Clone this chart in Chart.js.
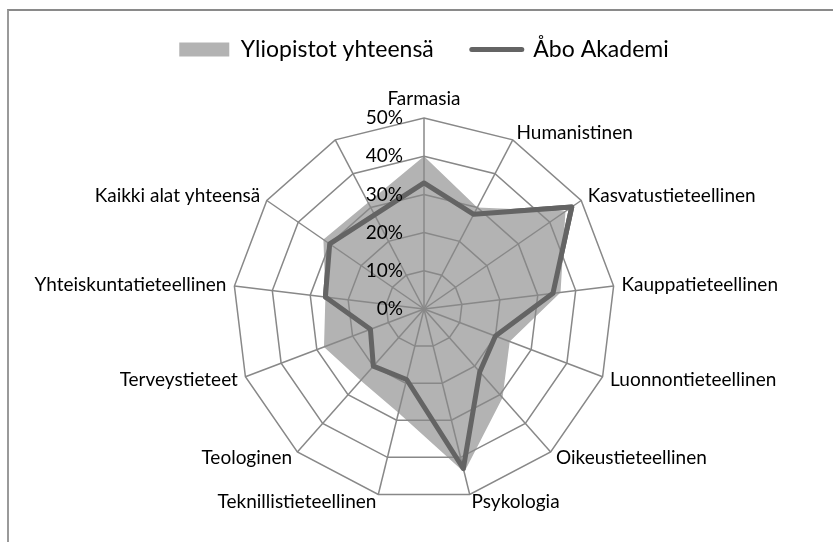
<!DOCTYPE html>
<html>
<head>
<meta charset="utf-8">
<script src="https://cdn.jsdelivr.net/npm/chart.js@4/dist/chart.umd.min.js"></script>
<style>
  html, body { margin: 0; padding: 0; background: #fff; }
  #wrap { position: relative; width: 833px; height: 542px; overflow: hidden; }
  #frame { position: absolute; left: 7px; top: 9px; width: 900px; height: 600px;
           border-top: 2px solid #8a8a8a; border-left: 2px solid #9a9a9a; }
  canvas { position: absolute; left: 0; top: 0; }
</style>
</head>
<body>
<div id="wrap">
  <div id="frame"></div>
  <canvas id="radar" width="833" height="542"></canvas>
</div>
<script>
const categories = ['Farmasia', 'Humanistinen', 'Kasvatustieteellinen', 'Kauppatieteellinen',
  'Luonnontieteellinen', 'Oikeustieteellinen', 'Psykologia', 'Teknillistieteellinen',
  'Teologinen', 'Terveystieteet', 'Yhteiskuntatieteellinen', 'Kaikki alat yhteensä', ''];
const seriesNames = ['Yliopistot yhteensä', 'Åbo Akademi'];
const yliopistot = [40, 30, 45, 36, 24, 31, 44, 28, 25, 28, 26, 32, null];
const aboAkademi = [33, 28, 47, 34, 20, 22, 43, 19, 20, 15, 26, 30, null];
const tickValues = [0, 10, 20, 30, 40, 50];

const FILL = '#b3b3b3';
const LINE = '#646464';
const GRID = '#888888';
const FONT = 'Lato, "Open Sans", sans-serif';

// legend height pushes the radar down (common fit() trick)
const legendSpace = {
  id: 'legendSpace',
  beforeInit(chart) {
    const fit = chart.legend.fit;
    chart.legend.fit = function() {
      fit.bind(chart.legend)();
      this.height = 118.5;
    };
  }
};

// line on top of the grid, then category and tick labels
const labelsOnTop = {
  id: 'labelsOnTop',
  afterDraw(chart) {
    chart.getDatasetMeta(1).controller.draw();
    const r = chart.scales.r;
    const ctx = chart.ctx;
    ctx.save();
    ctx.fillStyle = '#000';
    ctx.font = '19px ' + FONT;
    categories.forEach((txt, i) => {
      if (!txt) return;
      const p = r.getPointPosition(i, r.drawingArea + 8);
      const sin = Math.cos(p.angle);
      if (i === 0) {
        ctx.textAlign = 'center';
        ctx.textBaseline = 'bottom';
        ctx.fillText(txt, p.x, p.y - 2);
        return;
      }
      ctx.textAlign = sin > 0 ? 'left' : 'right';
      ctx.textBaseline = 'middle';
      ctx.fillText(txt, p.x, p.y);
    });
    ctx.textAlign = 'right';
    ctx.textBaseline = 'middle';
    tickValues.forEach(v => {
      const d = r.getDistanceFromCenterForValue(v);
      ctx.fillText(v + '%', r.xCenter - 21, r.yCenter - d);
    });
    ctx.restore();
  }
};

new Chart(document.getElementById('radar').getContext('2d'), {
  type: 'radar',
  data: {
    labels: categories,
    datasets: [{
      label: seriesNames[0],
      data: yliopistot,
      backgroundColor: FILL,
      borderColor: 'rgba(0,0,0,0)',
      borderWidth: 0,
      fill: 'origin',
      spanGaps: true,
      pointRadius: 0
    }, {
      label: seriesNames[1],
      data: aboAkademi,
      borderColor: LINE,
      borderWidth: 5,
      borderJoinStyle: 'round',
      fill: false,
      spanGaps: true,
      pointRadius: 0
    }]
  },
  options: {
    responsive: false,
    animation: false,
    layout: { padding: { left: 15, right: 0, top: 0, bottom: 41.5 } },
    plugins: {
      legend: {
        position: 'top',
        labels: {
          usePointStyle: true,
          pointStyleWidth: 50,
          boxHeight: 14,
          padding: 38,
          color: '#000',
          font: { family: FONT, size: 23 },
          generateLabels: () => [
            { text: seriesNames[0], fillStyle: FILL, strokeStyle: FILL, lineWidth: 0,
              pointStyle: 'rect', datasetIndex: 0, hidden: false },
            { text: seriesNames[1], fillStyle: LINE, strokeStyle: LINE, lineWidth: 5,
              lineCap: 'round', pointStyle: 'line', datasetIndex: 1, hidden: false }
          ]
        }
      },
      tooltip: { enabled: false }
    },
    scales: {
      r: {
        min: 0,
        max: 50,
        ticks: { stepSize: 10, display: false },
        pointLabels: { display: false },
        grid: { color: GRID, lineWidth: 1.5, circular: false, z: 1 },
        angleLines: { color: GRID, lineWidth: 1.5 }
      }
    }
  },
  plugins: [legendSpace, labelsOnTop]
});
</script>
</body>
</html>
